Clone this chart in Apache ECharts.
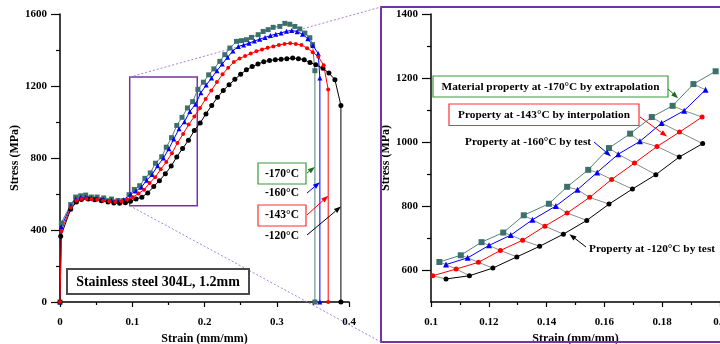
<!DOCTYPE html>
<html>
<head>
<meta charset="utf-8">
<script src="https://cdn.jsdelivr.net/npm/echarts@6/dist/echarts.min.js"></script>
<style>
html, body { margin: 0; padding: 0; background: #fff; }
#chart { width: 720px; height: 344px; }
</style>
</head>
<body>
<div id="chart"></div>
<script>
// Engineering stress-strain curves of stainless steel 304L (1.2 mm) at cryogenic temperatures.
// Each curve ends with the drop to zero stress at fracture.
const strainM170 = [0, 0.0019, 0.0148, 0.0217, 0.0287, 0.0356, 0.0435, 0.0513, 0.0605, 0.0712, 0.0803, 0.0882, 0.0956,
  0.1029, 0.1103, 0.1175, 0.125, 0.1321, 0.1408, 0.1471, 0.1544, 0.1616, 0.1689, 0.1764, 0.1836, 0.1908, 0.1985,
  0.2058, 0.213, 0.2212, 0.2281, 0.2351, 0.2443, 0.2512, 0.2581, 0.265, 0.2743, 0.2812, 0.2881, 0.295, 0.3043,
  0.3112, 0.3181, 0.325, 0.332, 0.3389, 0.3458, 0.3496, 0.3528, 0.3528];
const stressM170 = [0, 439, 541, 583, 590, 594, 583, 583, 578, 572, 564, 564, 596,
  625, 646, 687, 717, 771, 807, 860, 913, 981, 1026, 1078, 1113, 1181, 1221,
  1262, 1295, 1337, 1374, 1411, 1448, 1452, 1457, 1470, 1485, 1503, 1513, 1526, 1531,
  1548, 1543, 1531, 1517, 1494, 1468, 1430, 1285, 0];

const strainM160 = [0, 0.0019, 0.0148, 0.0217, 0.0287, 0.0356, 0.0435, 0.0513, 0.0605, 0.0712, 0.0803, 0.0882, 0.0975,
  0.1052, 0.1127, 0.1201, 0.1276, 0.1351, 0.1432, 0.1507, 0.1575, 0.1648, 0.1723, 0.1798, 0.1876, 0.195,
  0.2024, 0.2098, 0.2172, 0.2246, 0.232, 0.2394, 0.2468, 0.2542, 0.2616, 0.269, 0.2764, 0.2838, 0.2912, 0.2986,
  0.306, 0.3134, 0.3208, 0.3282, 0.3356, 0.343, 0.35, 0.3574, 0.3597, 0.3597];
const stressM160 = [0, 418, 535, 572, 580, 582, 578, 575, 570, 565, 560, 568, 598,
  617, 638, 677, 709, 757, 800, 851, 905, 962, 1002, 1059, 1098, 1163,
  1205, 1245, 1285, 1322, 1360, 1395, 1420, 1428, 1438, 1450, 1460, 1470, 1480, 1488,
  1495, 1504, 1509, 1502, 1488, 1462, 1425, 1380, 1244, 0];

const strainM143 = [0, 0.0019, 0.0148, 0.0227, 0.0296, 0.0366, 0.0435, 0.0513, 0.0596, 0.068, 0.0766, 0.085, 0.0928,
  0.1006, 0.1087, 0.1164, 0.124, 0.1317, 0.1394, 0.1471, 0.1549, 0.1625, 0.1704, 0.1782, 0.186, 0.1938,
  0.2016, 0.2094, 0.2172, 0.225, 0.2328, 0.2406, 0.2484, 0.2562, 0.264, 0.2718, 0.2796, 0.2874, 0.2952, 0.303,
  0.3108, 0.3186, 0.3264, 0.3342, 0.342, 0.3498, 0.3576, 0.365, 0.3712, 0.3712];
const stressM143 = [0, 395, 525, 562, 572, 573, 571, 568, 563, 558, 556, 560, 570,
  582, 603, 624, 661, 693, 737, 778, 827, 883, 934, 986, 1031, 1078,
  1128, 1175, 1222, 1265, 1302, 1333, 1353, 1366, 1380, 1393, 1403, 1412, 1420, 1428,
  1434, 1438, 1434, 1428, 1410, 1388, 1362, 1315, 1180, 0];

const strainM120 = [0, 0.001, 0.0148, 0.0227, 0.0296, 0.039, 0.048, 0.0573, 0.0665, 0.0745, 0.0825, 0.0905, 0.0975,
  0.1052, 0.1133, 0.1214, 0.1297, 0.1376, 0.1458, 0.1539, 0.1616, 0.1697, 0.1778, 0.1859, 0.194,
  0.202, 0.21, 0.218, 0.226, 0.234, 0.242, 0.25, 0.258, 0.266, 0.274, 0.282, 0.29, 0.298, 0.306,
  0.314, 0.322, 0.33, 0.338, 0.346, 0.354, 0.364, 0.3722, 0.3805, 0.3888, 0.3888];
const stressM120 = [0, 365, 515, 555, 570, 572, 568, 562, 555, 550, 549, 552, 560,
  572, 582, 606, 641, 674, 712, 755, 806, 853, 898, 953, 995,
  1045, 1092, 1137, 1175, 1207, 1237, 1265, 1290, 1308, 1322, 1335, 1342, 1346, 1348,
  1352, 1355, 1352, 1346, 1330, 1318, 1298, 1272, 1235, 1092, 0];

// Axis tick labels
const leftStrainTicks = [0, 0.1, 0.2, 0.3, 0.4];
const leftStressTicks = [0, 400, 800, 1200, 1600];
const detailStrainTicks = [0.1, 0.12, 0.14, 0.16, 0.18, 0.2];
const detailStressTicks = [600, 800, 1000, 1200, 1400];
const detailStressMinor = [700, 900, 1100, 1300];

// Region of the full curves that is enlarged on the right
const detailStrainRange = [0.1, 0.2];
const detailStressRange = [500, 1400];
const zoomBoxStrain = [0.0965, 0.19];
const zoomBoxStress = [535, 1250];

const SERIF = "'Liberation Serif', 'Times New Roman', serif";
const PURPLE = '#7434a6';
const C170 = '#3d6f6c', C170LINE = '#4f807d', C170BOX = '#3b9a3b', C170ARROW = '#1d6b1d';
const C160 = '#0000ff', C143 = '#ff0000', C120 = '#000000';

const zip = (xs, ys) => xs.map((x, i) => [x, ys[i]]);
const curves = [
  { name: '-170°C', data: zip(strainM170, stressM170), color: C170, line: C170LINE, symbol: 'rect', size: 5, dsize: 6 },
  { name: '-160°C', data: zip(strainM160, stressM160), color: C160, line: C160, symbol: 'triangle', size: 5, dsize: 6 },
  { name: '-120°C', data: zip(strainM120, stressM120), color: C120, line: C120, symbol: 'circle', size: 5, dsize: 5 },
  { name: '-143°C', data: zip(strainM143, stressM143), color: C143, line: C143, symbol: 'circle', size: 4, dsize: 5 }
];
const inDetail = p => p[0] >= detailStrainRange[0] && p[0] <= detailStrainRange[1];
const byName = n => curves.find(c => c.name === n);

const tickFont = { fontFamily: SERIF, fontWeight: 'bold', fontSize: 11, color: '#000' };
const nameFont = { fontFamily: SERIF, fontWeight: 'bold', fontSize: 12, color: '#000' };
const axisLine = { show: true, onZero: false, lineStyle: { color: '#000', width: 1.5 } };
const fmtNum = v => String(+Number(v).toFixed(2));

function xAxisDef(gridIndex, ticks) {
  return {
    type: 'value', gridIndex, min: ticks[0], max: ticks[ticks.length - 1],
    interval: +(ticks[1] - ticks[0]).toFixed(4),
    name: 'Strain (mm/mm)', nameLocation: 'middle', nameGap: 21, nameTextStyle: nameFont,
    axisLine, splitLine: { show: false },
    axisTick: { show: true, inside: false, length: 5, lineStyle: { color: '#000', width: 1.2 } },
    minorTick: { show: true, splitNumber: 2, length: 3, lineStyle: { color: '#000', width: 1.2 } },
    axisLabel: { ...tickFont, margin: 15, formatter: fmtNum, showMaxLabel: true, showMinLabel: true }
  };
}

const option = {
  animation: false,
  backgroundColor: '#fff',
  grid: [
    { left: 60, top: 14, width: 289, height: 288, containLabel: false, outerBoundsMode: 'none' },
    { left: 431, top: 14, width: 289, height: 288, containLabel: false, outerBoundsMode: 'none' }
  ],
  xAxis: [xAxisDef(0, leftStrainTicks), xAxisDef(1, detailStrainTicks)],
  yAxis: [
    {
      type: 'value', gridIndex: 0, position: 'left',
      min: leftStressTicks[0], max: leftStressTicks[leftStressTicks.length - 1],
      interval: leftStressTicks[1] - leftStressTicks[0],
      name: 'Stress (MPa)', nameLocation: 'middle', nameGap: 28, nameRotate: 90, nameTextStyle: nameFont,
      axisLine, splitLine: { show: false },
      axisTick: { show: true, length: 9, lineStyle: { color: '#000', width: 1.2 } },
      minorTick: { show: true, splitNumber: 2, length: 4, lineStyle: { color: '#000', width: 1.2 } },
      axisLabel: { ...tickFont, margin: 13, formatter: v => String(v) }
    },
    {
      type: 'value', gridIndex: 1, position: 'left',
      min: detailStressRange[0], max: detailStressRange[1], interval: 100,
      name: 'Stress (MPa)', nameLocation: 'middle', nameGap: 28, nameRotate: 90, nameTextStyle: nameFont,
      axisLine, splitLine: { show: false },
      axisTick: { show: true, length: 9, customValues: detailStressTicks, lineStyle: { color: '#000', width: 1.2 } },
      axisLabel: { ...tickFont, margin: 13, customValues: detailStressTicks, formatter: v => String(v) }
    },
    {
      type: 'value', gridIndex: 1, position: 'left', offset: 0,
      min: detailStressRange[0], max: detailStressRange[1], interval: 100,
      axisLine: { show: false }, splitLine: { show: false },
      axisTick: { show: true, length: 4, customValues: detailStressMinor, lineStyle: { color: '#000', width: 1.2 } },
      axisLabel: { show: false }
    }
  ],
  series: []
};

// Full curves
curves.forEach(c => {
  const s = {
    type: 'line', name: c.name, xAxisIndex: 0, yAxisIndex: 0, data: c.data,
    symbol: c.symbol, symbolSize: c.size, showSymbol: true, showAllSymbol: true,
    lineStyle: { color: c.line, width: 1 }, itemStyle: { color: c.color }, z: 3, silent: true
  };
  if (c.name === '-120°C') {
    s.markArea = {
      silent: true,
      itemStyle: { color: 'rgba(0,0,0,0)', borderColor: PURPLE, borderWidth: 1.5 },
      data: [[{ coord: [zoomBoxStrain[0], zoomBoxStress[1]] }, { coord: [zoomBoxStrain[1], zoomBoxStress[0]] }]]
    };
  }
  option.series.push(s);
});

// Enlarged portion
const G = byName('-170°C').data.filter(inDetail);
const B = byName('-160°C').data.filter(inDetail);
const R = byName('-143°C').data.filter(inDetail);
const K = byName('-120°C').data.filter(inDetail);

// Grey connectors joining corresponding points of the four curves
for (let k = -1; k < G.length; k++) {
  const pts = [G[k], B[k], R[k + 1], K[k + 1]].filter(Boolean);
  if (pts.length < 2) continue;
  option.series.push({
    type: 'line', xAxisIndex: 1, yAxisIndex: 1, data: pts, symbol: 'none', silent: true,
    lineStyle: { color: '#8c8c8c', width: 1 }, z: 2
  });
}
curves.forEach(c => {
  option.series.push({
    type: 'line', name: c.name + ' detail', xAxisIndex: 1, yAxisIndex: 1, data: c.data.filter(inDetail),
    symbol: c.symbol, symbolSize: c.dsize, showSymbol: true, showAllSymbol: true,
    lineStyle: { color: c.line, width: 1 }, itemStyle: { color: c.color }, z: 3, silent: true
  });
});

const chart = echarts.init(document.getElementById('chart'), null, { renderer: 'canvas' });
chart.setOption(option);

const px0 = p => chart.convertToPixel({ xAxisIndex: 0, yAxisIndex: 0 }, p);
const px1 = p => chart.convertToPixel({ xAxisIndex: 1, yAxisIndex: 1 }, p);
const dropStrain = n => { const d = byName(n).data; return d[d.length - 1][0]; };

function arrow(x1, y1, x2, y2, color) {
  const ang = Math.atan2(y2 - y1, x2 - x1), L = 7, W = 2.6;
  const bx = x2 - L * Math.cos(ang), by = y2 - L * Math.sin(ang);
  const nx = -Math.sin(ang) * W, ny = Math.cos(ang) * W;
  return [
    { type: 'line', shape: { x1, y1, x2: bx, y2: by }, style: { stroke: color, lineWidth: 1 }, z: 20, silent: true },
    { type: 'polygon', shape: { points: [[x2, y2], [bx + nx, by + ny], [bx - nx, by - ny]] },
      style: { fill: color }, z: 20, silent: true }
  ];
}
function box(x, y, w, h, color, width) {
  return { type: 'rect', shape: { x, y, width: w, height: h },
    style: { fill: '#fff', stroke: color, lineWidth: width || 1.2 }, z: 18, silent: true };
}
function label(text, x, y, size, align) {
  return { type: 'text', x, y, z: 19, silent: true,
    style: { text, fill: '#000', fontFamily: SERIF, fontWeight: 'bold', fontSize: size,
      align: align || 'center', verticalAlign: 'middle' } };
}

const tl = px0([zoomBoxStrain[0], zoomBoxStress[1]]);
const bl = px0([zoomBoxStrain[0], zoomBoxStress[0]]);
const frame = { x: 381, y: 7, w: 345, h: 335 };

const graphic = [
  { type: 'rect', shape: { x: frame.x, y: frame.y, width: frame.w, height: frame.h },
    style: { fill: 'none', stroke: PURPLE, lineWidth: 2 }, z: 1, silent: true },
  { type: 'line', shape: { x1: tl[0], y1: tl[1], x2: frame.x, y2: frame.y },
    style: { stroke: '#a784d4', lineWidth: 1, lineDash: [2, 2] }, z: 1, silent: true },
  { type: 'line', shape: { x1: bl[0], y1: bl[1], x2: frame.x, y2: frame.y + frame.h },
    style: { stroke: '#a784d4', lineWidth: 1, lineDash: [2, 2] }, z: 1, silent: true },

  box(67, 269, 182, 25, '#4a4a4a', 2),
  label('Stainless steel 304L, 1.2mm', 158, 282, 14),

  box(258, 163, 48, 21, C170BOX),
  label('-170°C', 282, 174, 11.5),
  label('-160°C', 282, 193.5, 11.5),
  box(258, 205, 48, 21, '#ff3030'),
  label('-143°C', 282, 215.5, 11.5),
  label('-120°C', 282, 236, 11.5),

  box(433, 76, 235, 21, C170BOX),
  label('Material property at -170°C by extrapolation', 550.5, 87, 11.3),
  box(449, 104, 190, 21.5, '#ff3030'),
  label('Property at -143°C by interpolation', 544, 115, 11.3),
  label('Property at -160°C by test', 465, 142, 11.3, 'left'),
  label('Property at -120°C by test', 589, 249, 11.3, 'left')
];

const e170 = px0([dropStrain('-170°C'), 750]);
const e160 = px0([dropStrain('-160°C'), 665]);
const e143 = px0([dropStrain('-143°C'), 590]);
const e120 = px0([dropStrain('-120°C'), 530]);
graphic.push(...arrow(307, 173, e170[0], e170[1], C170ARROW));
graphic.push(...arrow(307, 193, e160[0], e160[1], C160));
graphic.push(...arrow(307, 215, e143[0], e143[1], C143));
graphic.push(...arrow(307, 235, e120[0], e120[1], C120));

const d170 = px1([0.1855, 1137]);
const d143 = px1([0.1817, 1017]);
const d160 = px1([0.1623, 955]);
const d120 = px1([0.1479, 712]);
graphic.push(...arrow(668, 89, d170[0], d170[1], C170ARROW));
graphic.push(...arrow(640, 117, d143[0], d143[1], C143));
graphic.push(...arrow(594, 142, d160[0], d160[1], C160));
graphic.push(...arrow(586, 247, d120[0], d120[1], C120));

chart.setOption({ graphic });
</script>
</body>
</html>
